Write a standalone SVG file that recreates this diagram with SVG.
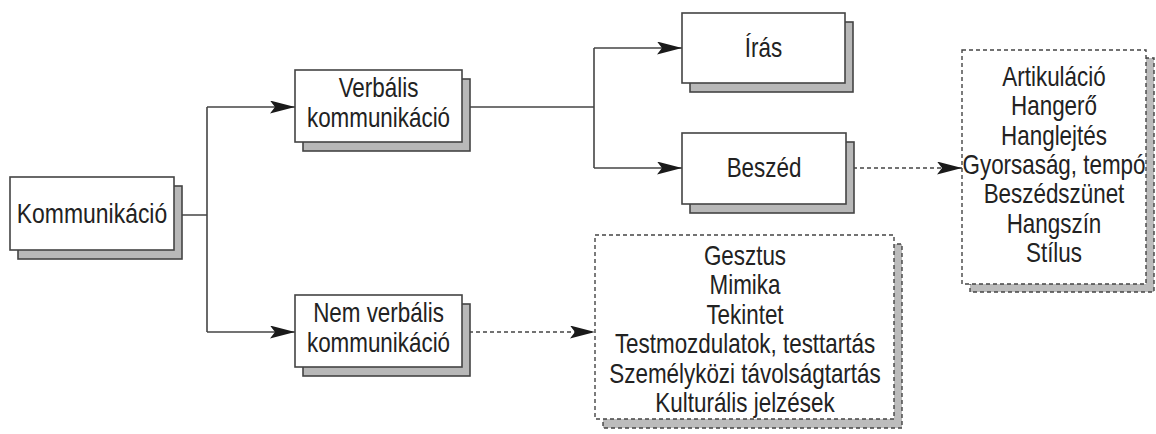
<svg xmlns="http://www.w3.org/2000/svg" width="1156" height="434" viewBox="0 0 1156 434">
<style>
.box{fill:#fff;stroke:#444;stroke-width:1.6}
.sh{fill:#b8b8b8;stroke:#444;stroke-width:1.6}
.dbox{fill:#fff;stroke:#444;stroke-width:1.4;stroke-dasharray:4 3}
.dsh{fill:#bcbcbc;stroke:#444;stroke-width:1.4;stroke-dasharray:4 3}
.ln{fill:none;stroke:#444;stroke-width:1.6}
.dl{fill:none;stroke:#444;stroke-width:1.4;stroke-dasharray:4 3}
text{font-family:"Liberation Sans",Arial,sans-serif;font-size:27px;fill:#222;text-anchor:middle}
</style>
<defs>
<marker id="ah" markerUnits="userSpaceOnUse" viewBox="0 0 25 13" refX="25" refY="6.5" markerWidth="25" markerHeight="13" orient="auto">
<path d="M0,0 L25,6.5 L0,13 L5,6.5 Z" fill="#1a1a1a"/>
</marker>
</defs>
<g id="connectors">
<path class="ln" d="M174,215 H207"/>
<path class="ln" d="M207,107 V332"/>
<path class="ln" d="M207,107 H295" marker-end="url(#ah)"/>
<path class="ln" d="M207,332 H295" marker-end="url(#ah)"/>
<path class="ln" d="M462,107 H594"/>
<path class="ln" d="M594,48 V168"/>
<path class="ln" d="M594,48 H682" marker-end="url(#ah)"/>
<path class="ln" d="M594,168 H682" marker-end="url(#ah)"/>
<path class="dl" d="M462,332 H595" marker-end="url(#ah)"/>
<path class="dl" d="M846,168 H962" marker-end="url(#ah)"/>
</g>
<g id="kommunikacio">
<rect class="sh" x="18" y="186" width="164" height="73"/>
<rect class="box" x="10" y="177" width="164" height="73"/>
<text transform="translate(92,223) scale(0.85,1)" x="0" y="0">Kommunikáció</text>
</g>
<g id="verbalis">
<rect class="sh" x="303" y="79" width="167" height="72"/>
<rect class="box" x="295" y="70" width="167" height="72"/>
<text transform="translate(378.5,0) scale(0.83,1)"><tspan x="0" y="97">Verbális</tspan><tspan x="0" y="127">kommunikáció</tspan></text>
</g>
<g id="nemverbalis">
<rect class="sh" x="303" y="304" width="167" height="72"/>
<rect class="box" x="295" y="295" width="167" height="72"/>
<text transform="translate(378.5,0) scale(0.83,1)"><tspan x="0" y="322">Nem verbális</tspan><tspan x="0" y="352">kommunikáció</tspan></text>
</g>
<g id="iras">
<rect class="sh" x="690" y="22" width="163" height="70"/>
<rect class="box" x="682" y="13" width="163" height="70"/>
<text transform="translate(763.5,57) scale(0.83,1)" x="0" y="0">Írás</text>
</g>
<g id="beszed">
<rect class="sh" x="690" y="142" width="164" height="71"/>
<rect class="box" x="682" y="133" width="164" height="71"/>
<text transform="translate(764,177) scale(0.83,1)" x="0" y="0">Beszéd</text>
</g>
<g id="beszed-jellemzok">
<rect class="dsh" x="970" y="58" width="184" height="234"/>
<rect class="dbox" x="962" y="50" width="184" height="234"/>
<text transform="translate(1054,0) scale(0.83,1)"><tspan x="0" y="86">Artikuláció</tspan><tspan x="0" y="115.3">Hangerő</tspan><tspan x="0" y="144.6">Hanglejtés</tspan><tspan x="0" y="174">Gyorsaság, tempó</tspan><tspan x="0" y="203.3">Beszédszünet</tspan><tspan x="0" y="232.6">Hangszín</tspan><tspan x="0" y="262">Stílus</tspan></text>
</g>
<g id="nemverbalis-jellemzok">
<rect class="dsh" x="603" y="244" width="299" height="184"/>
<rect class="dbox" x="595" y="235" width="299" height="184"/>
<text transform="translate(745,0) scale(0.83,1)"><tspan x="0" y="265">Gesztus</tspan><tspan x="0" y="294.4">Mimika</tspan><tspan x="0" y="323.8">Tekintet</tspan><tspan x="0" y="353.2">Testmozdulatok, testtartás</tspan><tspan x="0" y="382.6">Személyközi távolságtartás</tspan><tspan x="0" y="412">Kulturális jelzések</tspan></text>
</g>
</svg>
